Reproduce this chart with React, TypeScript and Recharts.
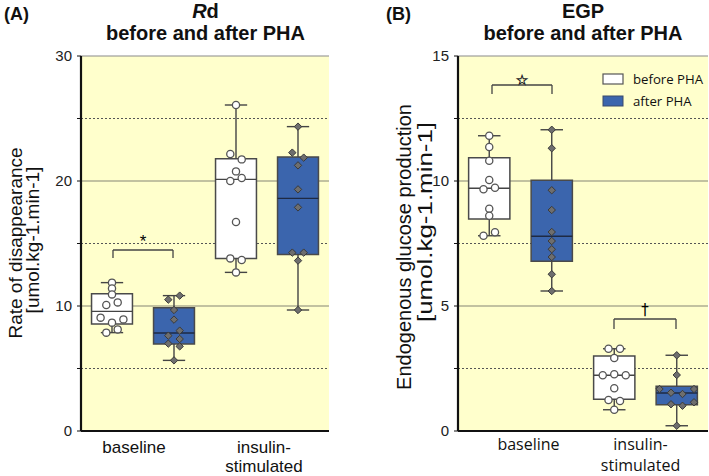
import React from 'react';
import {
  ComposedChart,
  XAxis,
  YAxis,
  CartesianGrid,
  ReferenceArea,
  ReferenceLine,
  ReferenceDot,
  Scatter,
} from 'recharts';

// ---------- shared ----------
const categories = ['baseline', 'insulin-\nstimulated'];
const seriesNames = ['before PHA', 'after PHA'];

// ---------- Panel A: Rd ----------
const rdBaseBefore = [11.87, 11.41, 10.93, 10.29, 10.08, 9.07, 8.93, 8.67, 8.13, 7.87];
const rdBaseBeforeJit = [0, 0, 0, 1, -1, -2, 2, 0, 1, -1];
const rdBaseAfter = [10.83, 10.51, 9.68, 8.91, 8.03, 7.63, 7.36, 6.99, 6.77, 5.65];
const rdBaseAfterJit = [1, -1, 0, 0, 1, -1, 1, -1, 1, 0];
const rdInsBefore = [26.08, 22.16, 21.73, 20.77, 20.24, 20.0, 16.72, 13.81, 13.68, 12.69];
const rdInsBeforeJit = [0, -1, 1, 0, 1, -1, 0, -1, 1, 0];
const rdInsAfter = [24.35, 22.27, 21.87, 21.25, 19.33, 17.89, 14.27, 14.27, 13.63, 9.68];
const rdInsAfterJit = [0, -1, 1, 0, 0, 0, -1, 1, 0, 0];
// box order: baseline-before, baseline-after, insulin-before, insulin-after
const rdMin = [7.87, 5.65, 12.69, 9.68];
const rdQ1 = [8.56, 6.96, 13.81, 14.13];
const rdMed = [9.57, 7.84, 20.13, 18.61];
const rdQ3 = [10.98, 9.87, 21.79, 21.92];
const rdMax = [11.87, 10.83, 26.08, 24.35];
const rdTicks = [0, 5, 10, 15, 20, 25, 30];
const rdTickLabels = ['0', '', '10', '', '20', '', '30'];
const rdSolidGrid = [10, 20];
const rdDottedGrid = [5, 15, 25];
// significance: [x1, x2, yTop, yLeg, markX, markY, mark]
const rdSig = [[0.258, 0.742, 14.48, 13.84, 0.5, 15.1, '*']];

// ---------- Panel B: EGP ----------
const egpBaseBefore = [11.81, 11.36, 10.81, 10.04, 9.67, 9.73, 8.89, 8.61, 7.81, 7.95];
const egpBaseBeforeJit = [0, 0, 0, 0, -1, 1, 0, 0, -1, 1];
const egpBaseAfter = [12.05, 11.31, 9.63, 8.84, 7.96, 7.6, 7.27, 6.96, 6.27, 5.6];
const egpBaseAfterJit = [0, 0, 0, 0, 0, 0, 0, 0, 0, 0];
const egpInsBefore = [3.29, 3.29, 2.92, 2.23, 2.27, 2.23, 1.71, 1.24, 1.2, 0.85];
const egpInsBeforeJit = [-1, 1, 0, -2, 0, 2, 0, -1, 1, 0];
const egpInsAfter = [3.03, 2.24, 1.68, 1.53, 1.48, 1.68, 1.07, 1.01, 1.15, 0.21];
const egpInsAfterJit = [0, 0, -3, -1, 1, 3, -1, 1, 3, 0];
const egpMin = [7.81, 5.6, 0.85, 0.21];
const egpQ1 = [8.48, 6.79, 1.27, 1.05];
const egpMed = [9.71, 7.79, 2.23, 1.52];
const egpQ3 = [10.93, 10.03, 3.0, 1.79];
const egpMax = [11.81, 12.05, 3.29, 3.03];
const egpTicks = [0, 2.5, 5, 7.5, 10, 12.5, 15];
const egpTickLabels = ['0', '', '5', '', '10', '', '15'];
const egpSolidGrid = [5, 10];
const egpDottedGrid = [2.5, 7.5, 12.5];
const egpSig = [
  [0.272, 0.752, 13.84, 13.48, 0.512, 14.05, '\u2606'],
  [1.248, 1.744, 4.48, 4.08, 1.496, 4.85, '\u2020'],
];

// ---------- style ----------
const YELLOW = '#FFFFCC';
const BLUE = '#3B65AD';
const BOX_STROKE = '#4a4a4a';
const GROUP_OFFSET = 0.25;
const BOX_HALF = 0.165;
const CAP_HALF = 0.09;
const JIT_STEP = 0.046;
const ARIAL = '"Liberation Sans", Arial, sans-serif';
const OPEN = '"Open Sans", "Noto Sans", sans-serif';
const DEJAVU = '"DejaVu Sans", sans-serif';

const circleShape = (p: any) => (
  <circle cx={p.cx} cy={p.cy} r={3.6} fill="#fff" stroke="#555" strokeWidth={1.3} />
);
const diamondShape = (p: any) => {
  const s = 3.7;
  return (
    <path
      d={`M${p.cx},${p.cy - s}L${p.cx + s},${p.cy}L${p.cx},${p.cy + s}L${p.cx - s},${p.cy}Z`}
      fill="#6e6e6e"
      stroke="#3a3a3a"
      strokeWidth={1}
    />
  );
};

type PanelProps = {
  width: number;
  yWidth: number;
  yMax: number;
  ticks: number[];
  tickLabels: string[];
  solid: number[];
  dotted: number[];
  points: number[][];
  jits: number[][];
  mins: number[];
  q1: number[];
  med: number[];
  q3: number[];
  maxs: number[];
  sig: any[];
  catFont: string;
  catDx: number[];
  catSize: number;
  catY: number[];
};

function BoxPanel(props: PanelProps) {
  const {
    width, yWidth, yMax, ticks, tickLabels, solid, dotted, points, jits,
    mins, q1, med, q3, maxs, sig, catFont, catDx, catSize, catY,
  } = props;
  const centers = [0, 1, 2, 3].map((i) => Math.floor(i / 2) + 0.5 + (i % 2 === 0 ? -GROUP_OFFSET : GROUP_OFFSET));

  const CatTick = (tp: any) => {
    const idx = Math.floor(tp.payload.value);
    const lines = categories[idx].split('\n');
    const x = tp.x + catDx[idx];
    return (
      <text textAnchor="middle" fontSize={catSize} fontFamily={catFont} fill="#111">
        {lines.map((l, k) => (
          <tspan key={k} x={x} y={tp.y + catY[k]}>
            {l}
          </tspan>
        ))}
      </text>
    );
  };

  const boxEls: any[] = [];
  const lineEls: any[] = [];
  centers.forEach((c, i) => {
    boxEls.push(
      <ReferenceArea
        key={`box${i}`}
        x1={c - BOX_HALF}
        x2={c + BOX_HALF}
        y1={q1[i]}
        y2={q3[i]}
        fill={i % 2 === 0 ? '#ffffff' : BLUE}
        fillOpacity={1}
        stroke={BOX_STROKE}
        strokeWidth={1.5}
        ifOverflow="visible"
      />
    );
    const segs = [
      [[c, q3[i]], [c, maxs[i]]],
      [[c, q1[i]], [c, mins[i]]],
      [[c - CAP_HALF, maxs[i]], [c + CAP_HALF, maxs[i]]],
      [[c - CAP_HALF, mins[i]], [c + CAP_HALF, mins[i]]],
      [[c - BOX_HALF, med[i]], [c + BOX_HALF, med[i]]],
    ];
    segs.forEach((s, k) => {
      lineEls.push(
        <ReferenceLine
          key={`seg${i}-${k}`}
          segment={[{ x: s[0][0], y: s[0][1] }, { x: s[1][0], y: s[1][1] }]}
          stroke={k === 4 && i % 2 === 1 ? '#1e2a44' : '#444'}
          strokeWidth={1.4}
          ifOverflow="visible"
        />
      );
    });
  });

  const sigEls: any[] = [];
  sig.forEach((s, i) => {
    const [x1, x2, yt, yl, mx, my, mark] = s;
    const segs = [
      [[x1, yl], [x1, yt]],
      [[x1, yt], [x2, yt]],
      [[x2, yt], [x2, yl]],
    ];
    segs.forEach((g, k) => {
      sigEls.push(
        <ReferenceLine
          key={`sig${i}-${k}`}
          segment={[{ x: g[0][0], y: g[0][1] }, { x: g[1][0], y: g[1][1] }]}
          stroke="#444"
          strokeWidth={1.3}
          ifOverflow="visible"
        />
      );
    });
    const isStar = mark === '\u2606';
    const isAst = mark === '*';
    sigEls.push(
      <ReferenceDot
        key={`mark${i}`}
        x={mx}
        y={my}
        r={1}
        ifOverflow="visible"
        shape={(p: any) => (
          <text
            x={p.cx}
            y={p.cy + 5}
            textAnchor="middle"
            fontSize={isAst ? 17 : isStar ? 14 : 15}
            fontFamily={isAst ? ARIAL : DEJAVU}
            fill={isStar ? '#ffffff' : '#000000'}
            stroke={isStar ? '#222' : 'none'}
            strokeWidth={isStar ? 0.6 : 0}
          >
            {mark}
          </text>
        )}
      />
    );
  });

  return (
    <ComposedChart
      width={width}
      height={476}
      margin={{ top: 56, right: 1, bottom: 0, left: 0 }}
    >
      <CartesianGrid
        horizontalValues={solid}
        vertical={false}
        stroke="#858575"
        strokeWidth={1}
        fill={YELLOW}
        fillOpacity={1}
      />
      <CartesianGrid
        horizontalValues={dotted}
        vertical={false}
        stroke="#555"
        strokeDasharray="2 2"
        strokeWidth={1}
      />
      <XAxis
        type="number"
        dataKey="x"
        domain={[0, 2]}
        ticks={[0.5, 1.5]}
        interval={0}
        allowDataOverflow
        height={45}
        tickLine={false}
        tickSize={0}
        tickMargin={0}
        axisLine={{ stroke: '#111', strokeWidth: 2.2 }}
        tick={CatTick}
      />
      <YAxis
        type="number"
        dataKey="y"
        domain={[0, yMax]}
        ticks={ticks}
        interval={0}
        allowDataOverflow
        width={yWidth}
        tickSize={4}
        tickMargin={5}
        tickLine={{ stroke: '#111' }}
        axisLine={{ stroke: '#111', strokeWidth: 2.2 }}
        tickFormatter={(v: number) => tickLabels[ticks.indexOf(v)] ?? ''}
        tick={{ fontSize: 15, fill: '#222', fontFamily: ARIAL }}
      />
      <ReferenceLine y={yMax} stroke="#8a8a8a" strokeWidth={1.2} ifOverflow="visible" />
      {boxEls}
      {lineEls}
      {sigEls}
      {points.map((vals, i) => (
        <Scatter
          key={`sc${i}`}
          name={seriesNames[i % 2]}
          data={vals.map((v, k) => ({ x: centers[i] + jits[i][k] * JIT_STEP, y: v }))}
          shape={i % 2 === 0 ? circleShape : diamondShape}
          isAnimationActive={false}
        />
      ))}
    </ComposedChart>
  );
}

export default function App() {
  return (
    <div style={{ position: 'relative', width: 709, height: 476, background: '#fff', overflow: 'hidden' }}>
      <style>{'body{margin:0;}'}</style>
      <div style={{ position: 'absolute', left: 0, top: 0 }}>
        <BoxPanel
          width={330}
          yWidth={81}
          yMax={30}
          ticks={rdTicks}
          tickLabels={rdTickLabels}
          solid={rdSolidGrid}
          dotted={rdDottedGrid}
          points={[rdBaseBefore, rdBaseAfter, rdInsBefore, rdInsAfter]}
          jits={[rdBaseBeforeJit, rdBaseAfterJit, rdInsBeforeJit, rdInsAfterJit]}
          mins={rdMin}
          q1={rdQ1}
          med={rdMed}
          q3={rdQ3}
          maxs={rdMax}
          sig={rdSig}
          catFont={ARIAL}
          catDx={[-9, -3]}
          catSize={17}
          catY={[22, 41]}
        />
      </div>
      <div style={{ position: 'absolute', left: 360, top: 0 }}>
        <BoxPanel
          width={349}
          yWidth={98}
          yMax={15}
          ticks={egpTicks}
          tickLabels={egpTickLabels}
          solid={egpSolidGrid}
          dotted={egpDottedGrid}
          points={[egpBaseBefore, egpBaseAfter, egpInsBefore, egpInsAfter]}
          jits={[egpBaseBeforeJit, egpBaseAfterJit, egpInsBeforeJit, egpInsAfterJit]}
          mins={egpMin}
          q1={egpQ1}
          med={egpMed}
          q3={egpQ3}
          maxs={egpMax}
          sig={egpSig}
          catFont={OPEN}
          catDx={[8, -5]}
          catSize={16}
          catY={[19, 40]}
        />
      </div>
      <svg
        width={709}
        height={476}
        style={{ position: 'absolute', left: 0, top: 0, pointerEvents: 'none' }}
      >
        <g fontFamily={ARIAL} fill="#111">
          <text x={4} y={20} fontSize={18} fontWeight="bold">(A)</text>
          <text x={205.5} y={18} fontSize={20} fontWeight="bold" textAnchor="middle">
            <tspan fontStyle="italic">R</tspan>d
          </text>
          <text x={205.5} y={40} fontSize={20} fontWeight="bold" textAnchor="middle">before and after PHA</text>
          <text x={386} y={20} fontSize={18} fontWeight="bold">(B)</text>
          <text x={583} y={18} fontSize={20} fontWeight="bold" textAnchor="middle">EGP</text>
          <text x={583} y={40} fontSize={20} fontWeight="bold" textAnchor="middle">before and after PHA</text>
          <text transform="translate(22,243) rotate(-90)" fontSize={19} textAnchor="middle">Rate of disappearance</text>
          <text transform="translate(39,240) rotate(-90)" fontSize={19} textAnchor="middle">[umol.kg-1.min-1]</text>
          <text transform="translate(411,247) rotate(-90)" fontSize={20} textAnchor="middle">Endogenous glucose production</text>
          <text transform="translate(432,222) rotate(-90)" fontSize={20} textAnchor="middle" textLength={200} lengthAdjust="spacingAndGlyphs">[umol.kg-1.min-1]</text>
        </g>
        <g fontFamily={OPEN} fill="#111" fontSize={13.2}>
          <rect x={603} y={74} width={20} height={10} fill="#fff" stroke="#555" strokeWidth={1.2} />
          <text x={633} y={84}>{seriesNames[0]}</text>
          <rect x={603} y={96} width={20} height={10} fill={BLUE} stroke="#3a4a6a" strokeWidth={1} />
          <text x={633} y={106}>{seriesNames[1]}</text>
        </g>
      </svg>
    </div>
  );
}
